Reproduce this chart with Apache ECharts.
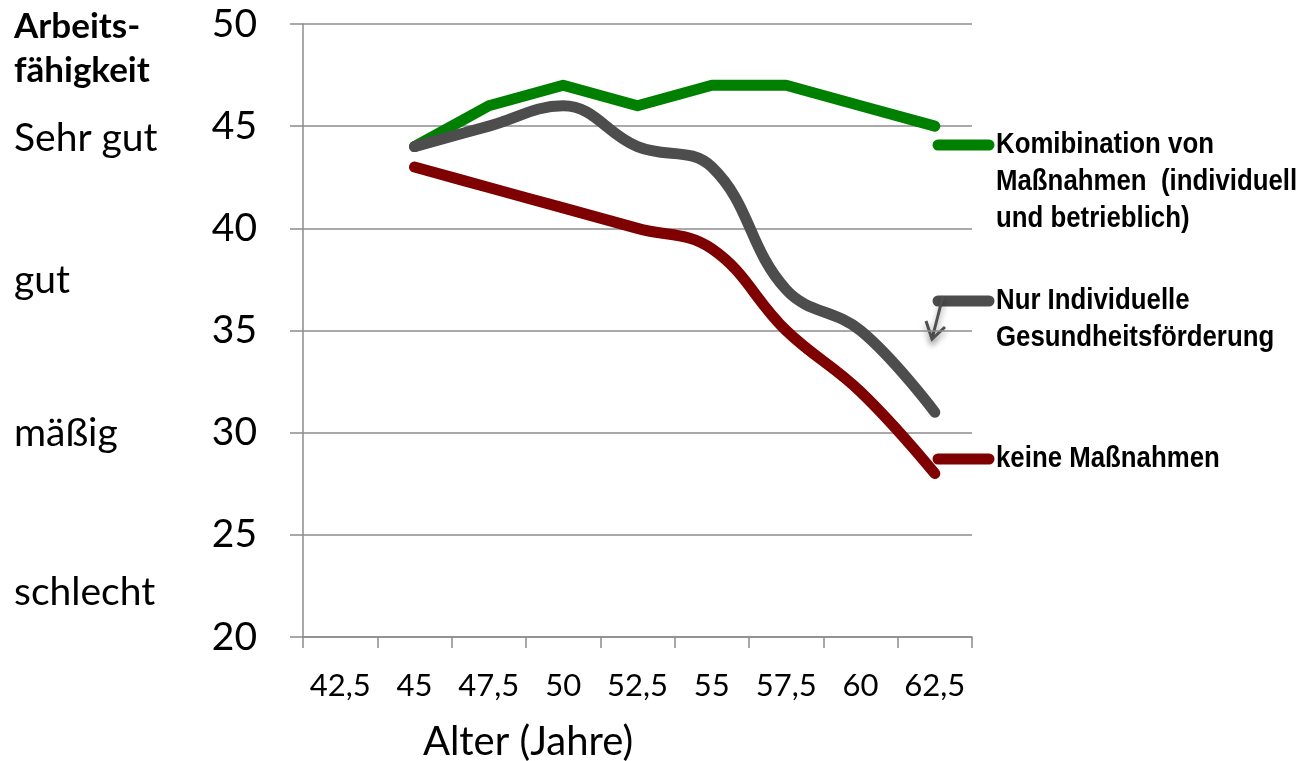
<!DOCTYPE html>
<html>
<head>
<meta charset="utf-8">
<script src="https://cdn.jsdelivr.net/npm/echarts@6/dist/echarts.min.js"></script>
<style>
html,body{margin:0;padding:0;background:#fff;}
#chart{width:1303px;height:761px;}
</style>
</head>
<body>
<div id="chart"></div>
<script>
var categories = ['42,5','45','47,5','50','52,5','55','57,5','60','62,5'];
var kombination = [null,44,46,47,46,47,47,46,45];
var individuell = [null,44,45,46,44,43,37,35,31];
var keine = [null,43,42,41,40,39,35,32,28];
var seriesNames = ['Komibination von\nMaßnahmen  (individuell\nund betrieblich)', 'Nur Individuelle\nGesundheitsförderung', 'keine Maßnahmen'];
var yLevels = ['Sehr gut','gut','mäßig','schlecht'];
var yTitle = ['Arbeits-','fähigkeit'];
var xTitle = 'Alter (Jahre)';

var cGreen = '#008000', cGray = '#4d4d4d', cRed = '#7f0000';
var gridColor = '#8c8c8c';
var font = 'Lato, Calibri, sans-serif';
var legFont = "'Liberation Sans Narrow', 'Liberation Sans', Arial, sans-serif";

var chart = echarts.init(document.getElementById('chart'));

var graphics = [];
// left category labels
graphics.push({type:'text', x:14, y:27, style:{text:yTitle[0], font:'bold 35px ' + font, fill:'#000', verticalAlign:'middle'}});
graphics.push({type:'text', x:14, y:71, style:{text:yTitle[1], font:'bold 35px ' + font, fill:'#000', verticalAlign:'middle'}});
var levelY = [138, 280, 433, 592];
yLevels.forEach(function(t, i){
  graphics.push({type:'text', x:14, y:levelY[i], style:{text:t, font:'39px ' + font, fill:'#000', verticalAlign:'middle'}});
});
graphics.push({type:'text', x:528, y:742, style:{text:xTitle, font:'40px ' + font, fill:'#000', align:'center', verticalAlign:'middle'}});

// legend keys and labels
var legendDefs = [
  {name:seriesNames[0], color:cGreen, y:145},
  {name:seriesNames[1], color:cGray, y:301},
  {name:seriesNames[2], color:cRed, y:459}
];
legendDefs.forEach(function(d){
  graphics.push({type:'line', shape:{x1:938,y1:d.y,x2:989,y2:d.y},
    style:{stroke:d.color, lineWidth:11, lineCap:'round'}});
  graphics.push({type:'text', x:996, y:d.y-18.5, scaleX:0.89,
    style:{text:d.name, font:'bold 29px ' + legFont, fill:'#000', lineHeight:37, verticalAlign:'top'}});
});
// small arrow
graphics.push({type:'polyline', shape:{points:[[943,296],[932,339]]},
  style:{stroke:'#505050', lineWidth:3, shadowBlur:6, shadowColor:'rgba(0,0,0,0.4)', shadowOffsetY:4}});
graphics.push({type:'polyline', shape:{points:[[926,321],[932,339],[945,327]]},
  style:{stroke:'#505050', lineWidth:3, fill:null, shadowBlur:6, shadowColor:'rgba(0,0,0,0.4)', shadowOffsetY:4}});

chart.setOption({
  animation:false,
  grid:{left:303, right:331, top:24, bottom:124, containLabel:false},
  xAxis:{
    type:'category', data:categories, boundaryGap:true,
    axisLine:{show:true, lineStyle:{color:gridColor, width:1.5}},
    axisTick:{show:true, length:11, alignWithLabel:false, lineStyle:{color:gridColor, width:1.5}},
    axisLabel:{color:'#000', fontSize:31, fontFamily:font, margin:33, interval:0},
    splitLine:{show:false}
  },
  yAxis:{
    type:'value', min:20, max:50, interval:5,
    axisLine:{show:true, lineStyle:{color:gridColor, width:1.5}},
    axisTick:{show:true, length:13, lineStyle:{color:gridColor, width:1.5}},
    axisLabel:{color:'#000', fontSize:39, fontFamily:font, margin:46},
    splitLine:{show:true, lineStyle:{color:gridColor, width:1.5}}
  },
  series:[
    {name:seriesNames[2], type:'line', data:keine, smooth:0.4, symbol:'none',
     lineStyle:{color:cRed, width:11, cap:'round', join:'round'}, z:2},
    {name:seriesNames[0], type:'line', data:kombination, smooth:false, symbol:'none',
     lineStyle:{color:cGreen, width:11, cap:'round', join:'round'}, z:3},
    {name:seriesNames[1], type:'line', data:individuell, smooth:0.4, symbol:'none',
     lineStyle:{color:cGray, width:11, cap:'round', join:'round'}, z:4}
  ],
  graphic:graphics
});
</script>
</body>
</html>
